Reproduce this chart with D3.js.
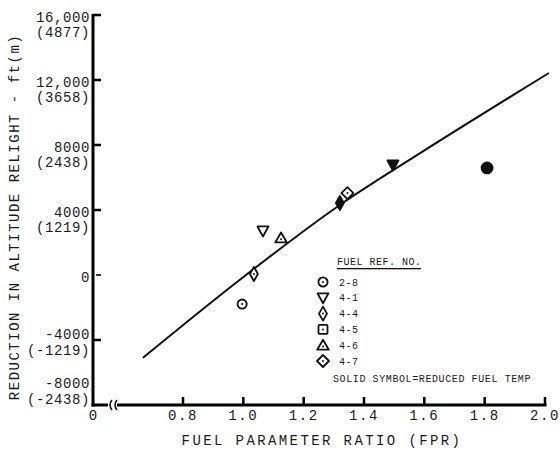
<!DOCTYPE html>
<html><head><meta charset="utf-8">
<script src="https://cdn.jsdelivr.net/npm/d3@7"></script>
<style>
body{margin:0;background:#fff;}
text{font-family:"Liberation Mono","DejaVu Sans Mono",monospace;fill:#1a1a1a;}
</style></head>
<body><svg id="c" width="560" height="452" xmlns="http://www.w3.org/2000/svg"></svg>
<script>
// ---- data ----
const yTickValues = [16000, 12000, 8000, 4000, 0, -4000, -8000];
const yTickLabels = ["16,000", "12,000", "8000", "4000", "0", "-4000", "-8000"];
const yTickMetric = ["(4877)", "(3658)", "(2438)", "(1219)", "", "(-1219)", "(-2438)"];
const xTickValues = [0.8, 1.0, 1.2, 1.4, 1.6, 1.8, 2.0];
const xTickLabels = ["0.8", "1.0", "1.2", "1.4", "1.6", "1.8", "2.0"];
const curveFPR = [0.667, 0.979, 1.32, 1.586, 2.013];
const curveAlt = [-5100, -430, 4310, 7500, 12430];
const pointFuel  = ["2-8", "4-1", "4-4", "4-6", "4-7", "4-4", "4-1", "2-8"];
const pointFPR   = [0.996, 1.065, 1.035, 1.125, 1.345, 1.32, 1.496, 1.808];
const pointAlt   = [-1790, 2710, 60, 2280, 5040, 4430, 6770, 6590];
const pointSolid = [false, false, false, false, false, true, true, true];
const legendFuel = ["2-8", "4-1", "4-4", "4-5", "4-6", "4-7"];
const legendTitle = "FUEL REF. NO.";
const noteText = "SOLID SYMBOL=REDUCED FUEL TEMP";
const xTitle = "FUEL PARAMETER RATIO (FPR)";
const yTitle = "REDUCTION IN ALTITUDE RELIGHT - ft(m)";

// ---- chart ----
const svg = d3.select("#c");
const ink = "#111";
const x = d3.scaleLinear().domain([0.8, 2.0]).range([183, 545]);
const y = d3.scaleLinear().domain([-8000, 16000]).range([405, 15]);
const axisX0 = 93;
const yb = y(-8000);
const frame = svg.append("g").attr("class", "frame");

function hrule(x1, x2, yy, w) {
  frame.append("rect").attr("x", Math.min(x1, x2)).attr("y", yy - w / 2)
    .attr("width", Math.abs(x2 - x1)).attr("height", w).style("fill", "#000");
}
function vrule(xx, y1, y2, w) {
  frame.append("rect").attr("x", xx - w / 2).attr("y", Math.min(y1, y2))
    .attr("width", w).attr("height", Math.abs(y2 - y1)).style("fill", "#000");
}

// y axis
vrule(axisX0, y(16000) - 1, yb + 1.5, 3);
yTickValues.forEach(v => {
  if (v === -8000) return;
  if (v === 0) hrule(axisX0 + 3, axisX0 + 8, y(v), 1.6);
  else hrule(axisX0, axisX0 + 8, y(v), 2.5);
});

// y tick labels (two lines)
const yl = svg.append("g").attr("font-size", 14).attr("text-anchor", "end");
yTickValues.forEach((v, i) => {
  let o1 = 7, o2 = 22;
  if (v === -4000) { o1 = -1; o2 = 15; }
  if (v === -8000) { o1 = -17; o2 = -1; }
  yl.append("text").attr("x", 90).attr("y", y(v) + o1)
    .attr("letter-spacing", 0.6).text(yTickLabels[i]);
  if (yTickMetric[i]) yl.append("text").attr("x", 90).attr("y", y(v) + o2)
    .attr("letter-spacing", 0.6).text(yTickMetric[i]);
});

// x axis
hrule(axisX0 - 1.5, 108, yb, 3);
hrule(117, x(2.0) + 1.5, yb, 3);
xTickValues.forEach((v, i) => {
  vrule(x(v), yb - 8, yb, 2.5);
  svg.append("text").attr("x", x(v)).attr("y", yb + 15).attr("font-size", 14)
    .attr("text-anchor", "middle").attr("letter-spacing", 1.6).text(xTickLabels[i]);
});
[110, 115].forEach(bx => {
  svg.append("path").attr("d", `M${bx + 2},${yb - 5} Q${bx - 2},${yb} ${bx + 2},${yb + 5}`)
    .style("fill", "none").style("stroke", ink).style("stroke-width", 1.6);
});
svg.append("text").attr("x", axisX0).attr("y", yb + 15).attr("font-size", 14)
  .attr("text-anchor", "middle").text("0");

// titles
svg.append("text").attr("x", 322).attr("y", 445).attr("font-size", 14)
  .attr("text-anchor", "middle").attr("letter-spacing", 2.4).text(xTitle);
svg.append("text").attr("transform", "translate(19,217) rotate(-90)").attr("font-size", 14)
  .attr("text-anchor", "middle").attr("letter-spacing", 1.5).text(yTitle);

// curve
const line = d3.line().x(d => x(d[0])).y(d => y(d[1])).curve(d3.curveMonotoneX);
svg.append("path").datum(curveFPR.map((f, i) => [f, curveAlt[i]]))
  .attr("d", line).style("fill", "none").style("stroke", ink).style("stroke-width", 2);

// symbols
function drawSymbol(g, fuel, solid) {
  const fill = solid ? ink : "#fff";
  const sw = 1.8;
  let dot = !solid;
  const st = s => s.style("fill", fill).style("stroke", ink).style("stroke-width", sw).style("stroke-linejoin", "round");
  if (fuel === "2-8") {
    st(g.append("circle").attr("r", solid ? 5.5 : 4.6));
  } else if (fuel === "4-1") {
    st(g.append("path").attr("d", "M-5.5,-4.5 L5.5,-4.5 L0,5.5 Z"));
    dot = false;
  } else if (fuel === "4-4") {
    st(g.append("path").attr("d", "M0,-7 L4,0 L0,7 L-4,0 Z"));
  } else if (fuel === "4-5") {
    st(g.append("rect").attr("x", -4.5).attr("y", -4.5).attr("width", 9).attr("height", 9).attr("rx", 1));
  } else if (fuel === "4-6") {
    st(g.append("path").attr("d", "M0,-5.5 L5.8,4.5 L-5.8,4.5 Z"));
    g.append("circle").attr("cy", 1.2).attr("r", 1).style("fill", ink);
    dot = false;
  } else if (fuel === "4-7") {
    st(g.append("path").attr("d", "M0,-6 L6,0 L0,6 L-6,0 Z"));
  }
  if (dot) g.append("circle").attr("r", 1).style("fill", ink);
}
pointFuel.forEach((f, i) => {
  const g = svg.append("g").attr("transform", `translate(${x(pointFPR[i])},${y(pointAlt[i])})`);
  drawSymbol(g, f, pointSolid[i]);
});

// legend
const lg = svg.append("g");
lg.append("text").attr("x", 337).attr("y", 265).attr("font-size", 10).attr("letter-spacing", 0.5).text(legendTitle);
lg.append("rect").attr("x", 337).attr("y", 268).attr("width", 84).attr("height", 1.3).style("fill", ink);
const rowY = d3.scalePoint().domain(legendFuel).range([282, 361]);
legendFuel.forEach(f => {
  const g = lg.append("g").attr("transform", `translate(323,${rowY(f)})`);
  drawSymbol(g, f, false);
  lg.append("text").attr("x", 339).attr("y", rowY(f) + 3.5).attr("font-size", 10).attr("letter-spacing", 0.5).text(f);
});
lg.append("text").attr("x", 333).attr("y", 382).attr("font-size", 10).attr("letter-spacing", 0.6).text(noteText);
</script></body></html>
